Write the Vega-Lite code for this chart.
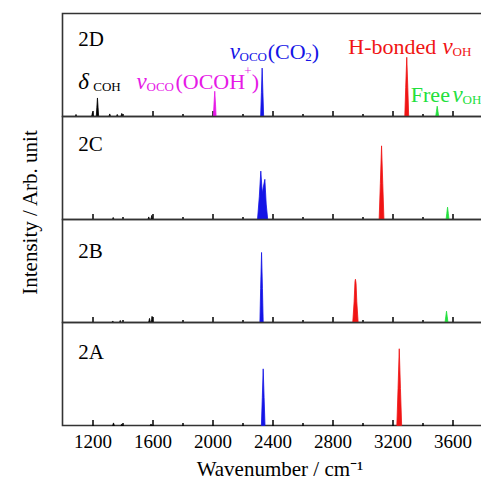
{
  "$schema": "https://vega.github.io/schema/vega-lite/v6.json",
  "padding": {"left": 18.5, "top": 12.5, "right": 0, "bottom": 0},
  "bounds": "flush",
  "spacing": 0,
  "config": {
    "view": {"stroke": "#333333", "strokeWidth": 1.6},
    "font": "Liberation Serif",
    "text": {"font": "Liberation Serif"}
  },
  "resolve": {"scale": {"x": "independent", "y": "independent"}},
  "datasets": {
    "spec": [
      {"p":"2D","id":"D1","m":"COH","x":1084,"y":0},{"p":"2D","id":"D1","m":"COH","x":1087,"y":0.01},{"p":"2D","id":"D1","m":"COH","x":1090,"y":0.02},{"p":"2D","id":"D1","m":"COH","x":1093,"y":0.01},{"p":"2D","id":"D1","m":"COH","x":1096,"y":0},
      {"p":"2D","id":"D2","m":"COH","x":1194,"y":0},{"p":"2D","id":"D2","m":"COH","x":1197,"y":0.02},{"p":"2D","id":"D2","m":"COH","x":1200,"y":0.04},{"p":"2D","id":"D2","m":"COH","x":1203,"y":0.02},{"p":"2D","id":"D2","m":"COH","x":1206,"y":0},
      {"p":"2D","id":"D3","m":"COH","x":1225,"y":0},{"p":"2D","id":"D3","m":"COH","x":1229,"y":0.09},{"p":"2D","id":"D3","m":"COH","x":1233,"y":0.18},{"p":"2D","id":"D3","m":"COH","x":1237,"y":0.09},{"p":"2D","id":"D3","m":"COH","x":1241,"y":0},
      {"p":"2D","id":"D4","m":"COH","x":1309,"y":0},{"p":"2D","id":"D4","m":"COH","x":1312,"y":0.012},{"p":"2D","id":"D4","m":"COH","x":1315,"y":0.025},{"p":"2D","id":"D4","m":"COH","x":1318,"y":0.012},{"p":"2D","id":"D4","m":"COH","x":1321,"y":0},
      {"p":"2D","id":"D5","m":"COH","x":1359,"y":0},{"p":"2D","id":"D5","m":"COH","x":1362,"y":0.01},{"p":"2D","id":"D5","m":"COH","x":1365,"y":0.02},{"p":"2D","id":"D5","m":"COH","x":1368,"y":0.01},{"p":"2D","id":"D5","m":"COH","x":1371,"y":0},
      {"p":"2D","id":"D6","m":"COH","x":1389,"y":0},{"p":"2D","id":"D6","m":"COH","x":1392,"y":0.015},{"p":"2D","id":"D6","m":"COH","x":1395,"y":0.03},{"p":"2D","id":"D6","m":"COH","x":1398,"y":0.015},{"p":"2D","id":"D6","m":"COH","x":1401,"y":0},
      {"p":"2D","id":"D7","m":"OCOH","x":2006,"y":0},{"p":"2D","id":"D7","m":"OCOH","x":2010,"y":0.12},{"p":"2D","id":"D7","m":"OCOH","x":2015,"y":0.245},{"p":"2D","id":"D7","m":"OCOH","x":2020,"y":0.12},{"p":"2D","id":"D7","m":"OCOH","x":2024,"y":0},
      {"p":"2D","id":"D8","m":"CO2","x":2321,"y":0},{"p":"2D","id":"D8","m":"CO2","x":2326,"y":0.23},{"p":"2D","id":"D8","m":"CO2","x":2331,"y":0.47},{"p":"2D","id":"D8","m":"CO2","x":2336,"y":0.23},{"p":"2D","id":"D8","m":"CO2","x":2341,"y":0},
      {"p":"2D","id":"D9","m":"HB","x":3282,"y":0},{"p":"2D","id":"D9","m":"HB","x":3288,"y":0.28},{"p":"2D","id":"D9","m":"HB","x":3295,"y":0.575},{"p":"2D","id":"D9","m":"HB","x":3302,"y":0.28},{"p":"2D","id":"D9","m":"HB","x":3308,"y":0},
      {"p":"2D","id":"D10","m":"FR","x":3488,"y":0},{"p":"2D","id":"D10","m":"FR","x":3493,"y":0.05},{"p":"2D","id":"D10","m":"FR","x":3498,"y":0.1},{"p":"2D","id":"D10","m":"FR","x":3503,"y":0.05},{"p":"2D","id":"D10","m":"FR","x":3508,"y":0},

      {"p":"2C","id":"C1","m":"COH","x":1332,"y":0},{"p":"2C","id":"C1","m":"COH","x":1335,"y":0.01},{"p":"2C","id":"C1","m":"COH","x":1338,"y":0.02},{"p":"2C","id":"C1","m":"COH","x":1341,"y":0.01},{"p":"2C","id":"C1","m":"COH","x":1344,"y":0},
      {"p":"2C","id":"C2","m":"COH","x":1569,"y":0},{"p":"2C","id":"C2","m":"COH","x":1572,"y":0.012},{"p":"2C","id":"C2","m":"COH","x":1575,"y":0.025},{"p":"2C","id":"C2","m":"COH","x":1578,"y":0.012},{"p":"2C","id":"C2","m":"COH","x":1581,"y":0},
      {"p":"2C","id":"C3","m":"COH","x":1589,"y":0},{"p":"2C","id":"C3","m":"COH","x":1592,"y":0.02},{"p":"2C","id":"C3","m":"COH","x":1595,"y":0.04},{"p":"2C","id":"C3","m":"COH","x":1598,"y":0.02},{"p":"2C","id":"C3","m":"COH","x":1601,"y":0},
      {"p":"2C","id":"C4","m":"CO2","x":2300,"y":0},{"p":"2C","id":"C4","m":"CO2","x":2312,"y":0.22},{"p":"2C","id":"C4","m":"CO2","x":2322,"y":0.47},{"p":"2C","id":"C4","m":"CO2","x":2332,"y":0.25},{"p":"2C","id":"C4","m":"CO2","x":2337,"y":0.3},{"p":"2C","id":"C4","m":"CO2","x":2349,"y":0.39},{"p":"2C","id":"C4","m":"CO2","x":2358,"y":0.15},{"p":"2C","id":"C4","m":"CO2","x":2368,"y":0},
      {"p":"2C","id":"C5","m":"HB","x":3111,"y":0},{"p":"2C","id":"C5","m":"HB","x":3119,"y":0.35},{"p":"2C","id":"C5","m":"HB","x":3127,"y":0.715},{"p":"2C","id":"C5","m":"HB","x":3135,"y":0.35},{"p":"2C","id":"C5","m":"HB","x":3143,"y":0},
      {"p":"2C","id":"C6","m":"FR","x":3557,"y":0},{"p":"2C","id":"C6","m":"FR","x":3562,"y":0.06},{"p":"2C","id":"C6","m":"FR","x":3567,"y":0.12},{"p":"2C","id":"C6","m":"FR","x":3572,"y":0.06},{"p":"2C","id":"C6","m":"FR","x":3577,"y":0},

      {"p":"2B","id":"B1","m":"COH","x":1329,"y":0},{"p":"2B","id":"B1","m":"COH","x":1332,"y":0.008},{"p":"2B","id":"B1","m":"COH","x":1335,"y":0.015},{"p":"2B","id":"B1","m":"COH","x":1338,"y":0.008},{"p":"2B","id":"B1","m":"COH","x":1341,"y":0},
      {"p":"2B","id":"B2","m":"COH","x":1379,"y":0},{"p":"2B","id":"B2","m":"COH","x":1382,"y":0.01},{"p":"2B","id":"B2","m":"COH","x":1385,"y":0.02},{"p":"2B","id":"B2","m":"COH","x":1388,"y":0.01},{"p":"2B","id":"B2","m":"COH","x":1391,"y":0},
      {"p":"2B","id":"B3","m":"COH","x":1574,"y":0},{"p":"2B","id":"B3","m":"COH","x":1577,"y":0.02},{"p":"2B","id":"B3","m":"COH","x":1580,"y":0.04},{"p":"2B","id":"B3","m":"COH","x":1583,"y":0.02},{"p":"2B","id":"B3","m":"COH","x":1586,"y":0},
      {"p":"2B","id":"B4","m":"COH","x":1591,"y":0},{"p":"2B","id":"B4","m":"COH","x":1594,"y":0.03},{"p":"2B","id":"B4","m":"COH","x":1597,"y":0.06},{"p":"2B","id":"B4","m":"COH","x":1600,"y":0.03},{"p":"2B","id":"B4","m":"COH","x":1603,"y":0},
      {"p":"2B","id":"B5","m":"CO2","x":2316,"y":0},{"p":"2B","id":"B5","m":"CO2","x":2321,"y":0.33},{"p":"2B","id":"B5","m":"CO2","x":2327,"y":0.68},{"p":"2B","id":"B5","m":"CO2","x":2333,"y":0.33},{"p":"2B","id":"B5","m":"CO2","x":2338,"y":0},
      {"p":"2B","id":"B6","m":"HB","x":2935,"y":0},{"p":"2B","id":"B6","m":"HB","x":2944,"y":0.2},{"p":"2B","id":"B6","m":"HB","x":2950,"y":0.4},{"p":"2B","id":"B6","m":"HB","x":2953,"y":0.42},{"p":"2B","id":"B6","m":"HB","x":2957,"y":0.38},{"p":"2B","id":"B6","m":"HB","x":2962,"y":0.2},{"p":"2B","id":"B6","m":"HB","x":2971,"y":0},
      {"p":"2B","id":"B7","m":"FR","x":3550,"y":0},{"p":"2B","id":"B7","m":"FR","x":3555,"y":0.055},{"p":"2B","id":"B7","m":"FR","x":3560,"y":0.11},{"p":"2B","id":"B7","m":"FR","x":3565,"y":0.055},{"p":"2B","id":"B7","m":"FR","x":3570,"y":0},

      {"p":"2A","id":"A1","m":"COH","x":1334,"y":0},{"p":"2A","id":"A1","m":"COH","x":1337,"y":0.012},{"p":"2A","id":"A1","m":"COH","x":1340,"y":0.025},{"p":"2A","id":"A1","m":"COH","x":1343,"y":0.012},{"p":"2A","id":"A1","m":"COH","x":1346,"y":0},
      {"p":"2A","id":"A2","m":"COH","x":1389,"y":0},{"p":"2A","id":"A2","m":"COH","x":1392,"y":0.008},{"p":"2A","id":"A2","m":"COH","x":1395,"y":0.015},{"p":"2A","id":"A2","m":"COH","x":1398,"y":0.008},{"p":"2A","id":"A2","m":"COH","x":1401,"y":0},
      {"p":"2A","id":"A3","m":"COH","x":1584,"y":0},{"p":"2A","id":"A3","m":"COH","x":1587,"y":0.008},{"p":"2A","id":"A3","m":"COH","x":1590,"y":0.015},{"p":"2A","id":"A3","m":"COH","x":1593,"y":0.008},{"p":"2A","id":"A3","m":"COH","x":1596,"y":0},
      {"p":"2A","id":"A4","m":"CO2","x":2326,"y":0},{"p":"2A","id":"A4","m":"CO2","x":2332,"y":0.27},{"p":"2A","id":"A4","m":"CO2","x":2338,"y":0.55},{"p":"2A","id":"A4","m":"CO2","x":2344,"y":0.27},{"p":"2A","id":"A4","m":"CO2","x":2350,"y":0},
      {"p":"2A","id":"A5","m":"HB","x":3229,"y":0},{"p":"2A","id":"A5","m":"HB","x":3237,"y":0.36},{"p":"2A","id":"A5","m":"HB","x":3245,"y":0.745},{"p":"2A","id":"A5","m":"HB","x":3253,"y":0.36},{"p":"2A","id":"A5","m":"HB","x":3261,"y":0}
    ],
    "lab": [
      {"p":"2D","x":1105,"y":0.685},
      {"p":"2C","x":1105,"y":0.664},
      {"p":"2B","x":1105,"y":0.63},
      {"p":"2A","x":1105,"y":0.648}
    ],
    "ann": [
      {"x":1105,"y":0.263,"t":"δ","k":"g","m":"COH"},
      {"x":1205,"y":0.245,"t":"COH","k":"s","m":"COH"},
      {"x":1493,"y":0.263,"t":"ν","k":"g","m":"OCOH"},
      {"x":1560,"y":0.245,"t":"OCO","k":"s","m":"OCOH"},
      {"x":1753,"y":0.263,"t":"(OCOH","k":"n","m":"OCOH"},
      {"x":2212,"y":0.40,"t":"+","k":"s","m":"OCOH"},
      {"x":2262,"y":0.263,"t":")","k":"n","m":"OCOH"},
      {"x":2115,"y":0.556,"t":"ν","k":"g","m":"CO2"},
      {"x":2180,"y":0.535,"t":"OCO","k":"s","m":"CO2"},
      {"x":2368,"y":0.556,"t":"(CO","k":"n","m":"CO2"},
      {"x":2618,"y":0.535,"t":"2","k":"s","m":"CO2"},
      {"x":2662,"y":0.556,"t":")","k":"n","m":"CO2"},
      {"x":2905,"y":0.61,"t":"H-bonded","k":"n","m":"HB"},
      {"x":3533,"y":0.61,"t":"ν","k":"g","m":"HB"},
      {"x":3600,"y":0.59,"t":"OH","k":"s","m":"HB"},
      {"x":3322,"y":0.139,"t":"Free","k":"n","m":"FR"},
      {"x":3600,"y":0.139,"t":"ν","k":"g","m":"FR"},
      {"x":3667,"y":0.118,"t":"OH","k":"s","m":"FR"}
    ]
  },
  "vconcat": [
    {
      "width": 420, "height": 103,
      "resolve": {"axis": {"x": "independent"}},
      "layer": [
        {
          "data": {"name": "spec"},
          "transform": [{"filter": "datum.p === '2D'"}],
          "mark": {"type": "area", "strokeWidth": 0.8},
          "encoding": {
            "x": {"field": "x", "type": "quantitative", "scale": {"domain": [1000, 3800], "nice": false, "zero": false},
                  "axis": {"orient": "bottom", "values": [1200,1600,2000,2400,2800,3200,3600], "offset": -6, "tickSize": 6, "tickWidth": 1.5, "tickColor": "black", "labels": false, "domain": false, "grid": false, "title": null}},
            "y": {"field": "y", "type": "quantitative", "scale": {"domain": [0, 1]}, "axis": null, "stack": null},
            "detail": {"field": "id"},
            "color": {"field": "m", "type": "nominal", "scale": {"domain": ["COH","OCOH","CO2","HB","FR"], "range": ["#000000","#e619e6","#1414e6","#f01414","#22e03c"]}, "legend": null},
            "stroke": {"field": "m", "type": "nominal", "scale": {"domain": ["COH","OCOH","CO2","HB","FR"], "range": ["#000000","#e619e6","#1414e6","#f01414","#22e03c"]}, "legend": null}
          }
        },
        {
          "data": {"name": "lab"},
          "transform": [{"filter": "datum.p === '2D'"}],
          "mark": {"type": "text", "align": "left", "baseline": "alphabetic", "fontSize": 21, "color": "black"},
          "encoding": {
            "x": {"field": "x", "type": "quantitative", "scale": {"domain": [1000, 3800], "nice": false, "zero": false},
                  "axis": {"orient": "bottom", "values": [1400,1800,2200,2600,3000,3400], "offset": -3, "tickSize": 3, "tickWidth": 1.5, "tickColor": "black", "labels": false, "domain": false, "grid": false, "title": null}},
            "y": {"field": "y", "type": "quantitative", "scale": {"domain": [0, 1]}, "axis": null},
            "text": {"field": "p"}
          }
        },
        {
          "data": {"name": "ann"},
          "transform": [{"filter": "datum.k === 'n'"}],
          "mark": {"type": "text", "align": "left", "baseline": "alphabetic", "fontSize": 22},
          "encoding": {
            "x": {"field": "x", "type": "quantitative", "scale": {"domain": [1000, 3800], "nice": false, "zero": false}, "axis": null},
            "y": {"field": "y", "type": "quantitative", "scale": {"domain": [0, 1]}, "axis": null},
            "text": {"field": "t"},
            "color": {"field": "m", "type": "nominal", "scale": {"domain": ["COH","OCOH","CO2","HB","FR"], "range": ["#000000","#e619e6","#1414e6","#f01414","#22e03c"]}, "legend": null}
          }
        },
        {
          "data": {"name": "ann"},
          "transform": [{"filter": "datum.k === 'g'"}],
          "mark": {"type": "text", "align": "left", "baseline": "alphabetic", "fontSize": 23, "fontStyle": "italic"},
          "encoding": {
            "x": {"field": "x", "type": "quantitative", "scale": {"domain": [1000, 3800], "nice": false, "zero": false}, "axis": null},
            "y": {"field": "y", "type": "quantitative", "scale": {"domain": [0, 1]}, "axis": null},
            "text": {"field": "t"},
            "color": {"field": "m", "type": "nominal", "scale": {"domain": ["COH","OCOH","CO2","HB","FR"], "range": ["#000000","#e619e6","#1414e6","#f01414","#22e03c"]}, "legend": null}
          }
        },
        {
          "data": {"name": "ann"},
          "transform": [{"filter": "datum.k === 's'"}],
          "mark": {"type": "text", "align": "left", "baseline": "alphabetic", "fontSize": 13},
          "encoding": {
            "x": {"field": "x", "type": "quantitative", "scale": {"domain": [1000, 3800], "nice": false, "zero": false}, "axis": null},
            "y": {"field": "y", "type": "quantitative", "scale": {"domain": [0, 1]}, "axis": null},
            "text": {"field": "t"},
            "color": {"field": "m", "type": "nominal", "scale": {"domain": ["COH","OCOH","CO2","HB","FR"], "range": ["#000000","#e619e6","#1414e6","#f01414","#22e03c"]}, "legend": null}
          }
        }
      ]
    },
    {
      "width": 420, "height": 103,
      "resolve": {"axis": {"x": "independent"}},
      "layer": [
        {
          "data": {"name": "spec"},
          "transform": [{"filter": "datum.p === '2C'"}],
          "mark": {"type": "area", "strokeWidth": 0.8},
          "encoding": {
            "x": {"field": "x", "type": "quantitative", "scale": {"domain": [1000, 3800], "nice": false, "zero": false},
                  "axis": {"orient": "bottom", "values": [1200,1600,2000,2400,2800,3200,3600], "offset": -6, "tickSize": 6, "tickWidth": 1.5, "tickColor": "black", "labels": false, "domain": false, "grid": false, "title": null}},
            "y": {"field": "y", "type": "quantitative", "scale": {"domain": [0, 1]}, "stack": null,
                  "axis": {"title": "Intensity / Arb. unit", "labels": false, "ticks": false, "domain": false, "grid": false, "titleX": -32, "titleY": 95.5, "titleBaseline": "middle", "titleAlign": "center", "titleAngle": -90, "titleFont": "Liberation Serif", "titleFontSize": 21, "titleFontWeight": "normal", "titleColor": "black"}},
            "detail": {"field": "id"},
            "color": {"field": "m", "type": "nominal", "scale": {"domain": ["COH","OCOH","CO2","HB","FR"], "range": ["#000000","#e619e6","#1414e6","#f01414","#22e03c"]}, "legend": null},
            "stroke": {"field": "m", "type": "nominal", "scale": {"domain": ["COH","OCOH","CO2","HB","FR"], "range": ["#000000","#e619e6","#1414e6","#f01414","#22e03c"]}, "legend": null}
          }
        },
        {
          "data": {"name": "lab"},
          "transform": [{"filter": "datum.p === '2C'"}],
          "mark": {"type": "text", "align": "left", "baseline": "alphabetic", "fontSize": 21, "color": "black"},
          "encoding": {
            "x": {"field": "x", "type": "quantitative", "scale": {"domain": [1000, 3800], "nice": false, "zero": false},
                  "axis": {"orient": "bottom", "values": [1400,1800,2200,2600,3000,3400], "offset": -3, "tickSize": 3, "tickWidth": 1.5, "tickColor": "black", "labels": false, "domain": false, "grid": false, "title": null}},
            "y": {"field": "y", "type": "quantitative", "scale": {"domain": [0, 1]},
                  "axis": {"title": "Intensity / Arb. unit", "labels": false, "ticks": false, "domain": false, "grid": false, "titleX": -32, "titleY": 95.5, "titleBaseline": "middle", "titleAlign": "center", "titleAngle": -90, "titleFont": "Liberation Serif", "titleFontSize": 21, "titleFontWeight": "normal", "titleColor": "black"}},
            "text": {"field": "p"}
          }
        }
      ]
    },
    {
      "width": 420, "height": 103,
      "resolve": {"axis": {"x": "independent"}},
      "layer": [
        {
          "data": {"name": "spec"},
          "transform": [{"filter": "datum.p === '2B'"}],
          "mark": {"type": "area", "strokeWidth": 0.8},
          "encoding": {
            "x": {"field": "x", "type": "quantitative", "scale": {"domain": [1000, 3800], "nice": false, "zero": false},
                  "axis": {"orient": "bottom", "values": [1200,1600,2000,2400,2800,3200,3600], "offset": -6, "tickSize": 6, "tickWidth": 1.5, "tickColor": "black", "labels": false, "domain": false, "grid": false, "title": null}},
            "y": {"field": "y", "type": "quantitative", "scale": {"domain": [0, 1]}, "axis": null, "stack": null},
            "detail": {"field": "id"},
            "color": {"field": "m", "type": "nominal", "scale": {"domain": ["COH","OCOH","CO2","HB","FR"], "range": ["#000000","#e619e6","#1414e6","#f01414","#22e03c"]}, "legend": null},
            "stroke": {"field": "m", "type": "nominal", "scale": {"domain": ["COH","OCOH","CO2","HB","FR"], "range": ["#000000","#e619e6","#1414e6","#f01414","#22e03c"]}, "legend": null}
          }
        },
        {
          "data": {"name": "lab"},
          "transform": [{"filter": "datum.p === '2B'"}],
          "mark": {"type": "text", "align": "left", "baseline": "alphabetic", "fontSize": 21, "color": "black"},
          "encoding": {
            "x": {"field": "x", "type": "quantitative", "scale": {"domain": [1000, 3800], "nice": false, "zero": false},
                  "axis": {"orient": "bottom", "values": [1400,1800,2200,2600,3000,3400], "offset": -3, "tickSize": 3, "tickWidth": 1.5, "tickColor": "black", "labels": false, "domain": false, "grid": false, "title": null}},
            "y": {"field": "y", "type": "quantitative", "scale": {"domain": [0, 1]}, "axis": null},
            "text": {"field": "p"}
          }
        }
      ]
    },
    {
      "width": 420, "height": 103,
      "resolve": {"axis": {"x": "independent"}},
      "layer": [
        {
          "data": {"name": "spec"},
          "transform": [{"filter": "datum.p === '2A'"}],
          "mark": {"type": "area", "strokeWidth": 0.8},
          "encoding": {
            "x": {"field": "x", "type": "quantitative", "scale": {"domain": [1000, 3800], "nice": false, "zero": false},
                  "axis": {"orient": "bottom", "values": [1200,1600,2000,2400,2800,3200,3600], "format": "d", "offset": -6, "tickSize": 6, "tickWidth": 1.5, "tickColor": "black", "labels": true, "labelFont": "Liberation Serif", "labelFontSize": 19, "labelColor": "black", "labelBaseline": "alphabetic", "labelPadding": 21.5, "labelFlush": false, "domain": false, "grid": false,
                           "title": "Wavenumber / cm⁻¹", "titleFont": "Liberation Serif", "titleFontSize": 21, "titleFontWeight": "normal", "titleColor": "black", "titleBaseline": "alphabetic", "titleY": 56, "titleX": 217}},
            "y": {"field": "y", "type": "quantitative", "scale": {"domain": [0, 1]}, "axis": null, "stack": null},
            "detail": {"field": "id"},
            "color": {"field": "m", "type": "nominal", "scale": {"domain": ["COH","OCOH","CO2","HB","FR"], "range": ["#000000","#e619e6","#1414e6","#f01414","#22e03c"]}, "legend": null},
            "stroke": {"field": "m", "type": "nominal", "scale": {"domain": ["COH","OCOH","CO2","HB","FR"], "range": ["#000000","#e619e6","#1414e6","#f01414","#22e03c"]}, "legend": null}
          }
        },
        {
          "data": {"name": "lab"},
          "transform": [{"filter": "datum.p === '2A'"}],
          "mark": {"type": "text", "align": "left", "baseline": "alphabetic", "fontSize": 21, "color": "black"},
          "encoding": {
            "x": {"field": "x", "type": "quantitative", "scale": {"domain": [1000, 3800], "nice": false, "zero": false},
                  "axis": {"orient": "bottom", "values": [1400,1800,2200,2600,3000,3400], "offset": -3, "tickSize": 3, "tickWidth": 1.5, "tickColor": "black", "labels": false, "domain": false, "grid": false, "title": null}},
            "y": {"field": "y", "type": "quantitative", "scale": {"domain": [0, 1]}, "axis": null},
            "text": {"field": "p"}
          }
        }
      ]
    }
  ]
}
